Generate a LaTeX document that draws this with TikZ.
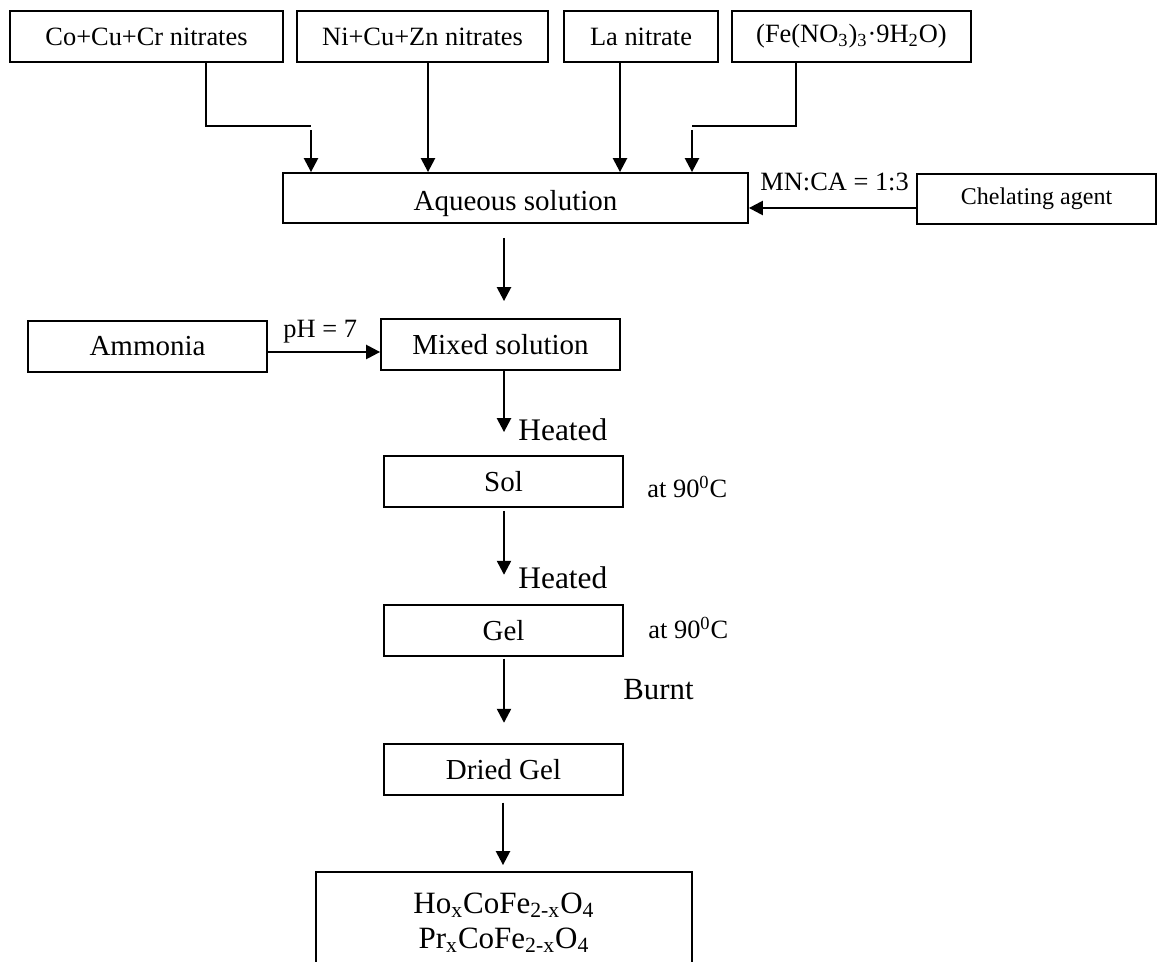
\documentclass[tikz,border=0pt]{standalone}
\usepackage{fontspec}
\setmainfont{Liberation Serif}
\usetikzlibrary{arrows.meta,calc}

\begin{document}
\begin{tikzpicture}[x=0.5pt,y=-0.5pt,
    box/.style={draw,line width=0.9pt,inner sep=0pt,minimum height=25.5pt,minimum width=119.5pt,align=center},
    top/.style={font=\fontsize{13.2}{16}\selectfont},
    main/.style={font=\fontsize{14.5}{17}\selectfont},
    lbl/.style={inner sep=0pt,anchor=base west},
    arr/.style={line width=1.2pt,-{Triangle[length=7pt,width=7pt]}},
    feed/.style={line width=0.8pt}]
    \useasboundingbox (0,0) rectangle (1162,962);

    % starting nitrates
    \node[box,top,minimum width=136.5pt] (co) at (146.5,36.5) {Co+Cu+Cr nitrates};
    \node[box,top,minimum width=125.5pt] (ni) at (422.5,36.5) {Ni+Cu+Zn nitrates};
    \node[box,top,minimum width=77pt] (la) at (641,36.5) {La nitrate};
    \node[box,top] (fe) at (851.5,36.5) {(Fe(NO\textsubscript{3})\textsubscript{3}·9H\textsubscript{2}O)};

    \node[box,main,minimum width=232.5pt,minimum height=25pt,text height=13pt,text depth=0pt] (aq) at (515.5,198) {Aqueous solution};
    \node[box,font=\fontsize{12}{14}\selectfont,minimum height=25pt] (ch) at (1036.5,199) {Chelating agent};
    \node[lbl,top] (ratio) at (760,191) {MN:CA = 1:3};

    \node[box,main] (am) at (147.5,346.5) {Ammonia};
    \node[box,main] (mx) at (500.5,344.5) {Mixed solution};
    \node[lbl,top] (ph) at (283,338) {pH = 7};

    \node[box,main] (sol) at (503.5,481.5) {Sol};
    \node[box,main] (gel) at (503.5,630.2) {Gel};
    \node[box,main] (dry) at (503.5,769.2) {Dried Gel};
    \node[box,font=\fontsize{15.5}{17.5}\selectfont,minimum width=188pt,minimum height=51pt] (fin) at (504,923)
        {Ho\textsubscript{x}CoFe\textsubscript{2-x}O\textsubscript{4}\\Pr\textsubscript{x}CoFe\textsubscript{2-x}O\textsubscript{4}};

    \node[lbl,font=\fontsize{15.7}{18}\selectfont] (heat1) at (518,441) {Heated};
    \node[lbl,font=\fontsize{15.7}{18}\selectfont] (heat2) at (518,588) {Heated};
    \node[lbl,font=\fontsize{15.4}{18}\selectfont] (burn) at (623,699) {Burnt};
    \node[lbl,top] (t1) at (647,497) {at 90\textsuperscript{0}C};
    \node[lbl,top] (t2) at (648,638) {at 90\textsuperscript{0}C};

    % feeds into the aqueous solution
    \coordinate (j1) at (311,126);
    \coordinate (j2) at (692,126);
    \draw[feed] ($(co.south)+(59.5,0)$) |- (j1);
    \draw[arr] ($(j1)+(0,4)$) -- (j1 |- aq.north);
    \draw[arr] ($(ni.south)+(5.5,0)$) coordinate (s2) -- (s2 |- aq.north);
    \draw[arr] ($(la.south)+(-21,0)$) coordinate (s3) -- (s3 |- aq.north);
    \draw[feed] ($(fe.south)+(-55.5,0)$) |- (j2);
    \draw[arr] ($(j2)+(0,4)$) -- (j2 |- aq.north);
    \draw[arr] ($(ch.west)+(0,9)$) coordinate (s5) -- (s5 -| aq.east);

    % main line
    \draw[arr] ($(aq.south)+(-11.5,14)$) -- ($(mx.north)+(3.5,-17)$);
    \draw[arr] ($(am.east)+(0,5.5)$) coordinate (s6) -- (s6 -| mx.west);
    \draw[arr] ($(mx.south)+(3.5,0)$) -- ($(sol.north)+(0.5,-23)$);
    \draw[arr] ($(sol.south)+(0.5,3)$) -- ($(gel.north)+(0.5,-29)$);
    \draw[arr] ($(gel.south)+(0.5,2)$) -- ($(dry.north)+(0.5,-20)$);
    \draw[arr] ($(dry.south)+(-0.5,7)$) -- ($(fin.north)+(-1,-6)$);
\end{tikzpicture}
\end{document}
